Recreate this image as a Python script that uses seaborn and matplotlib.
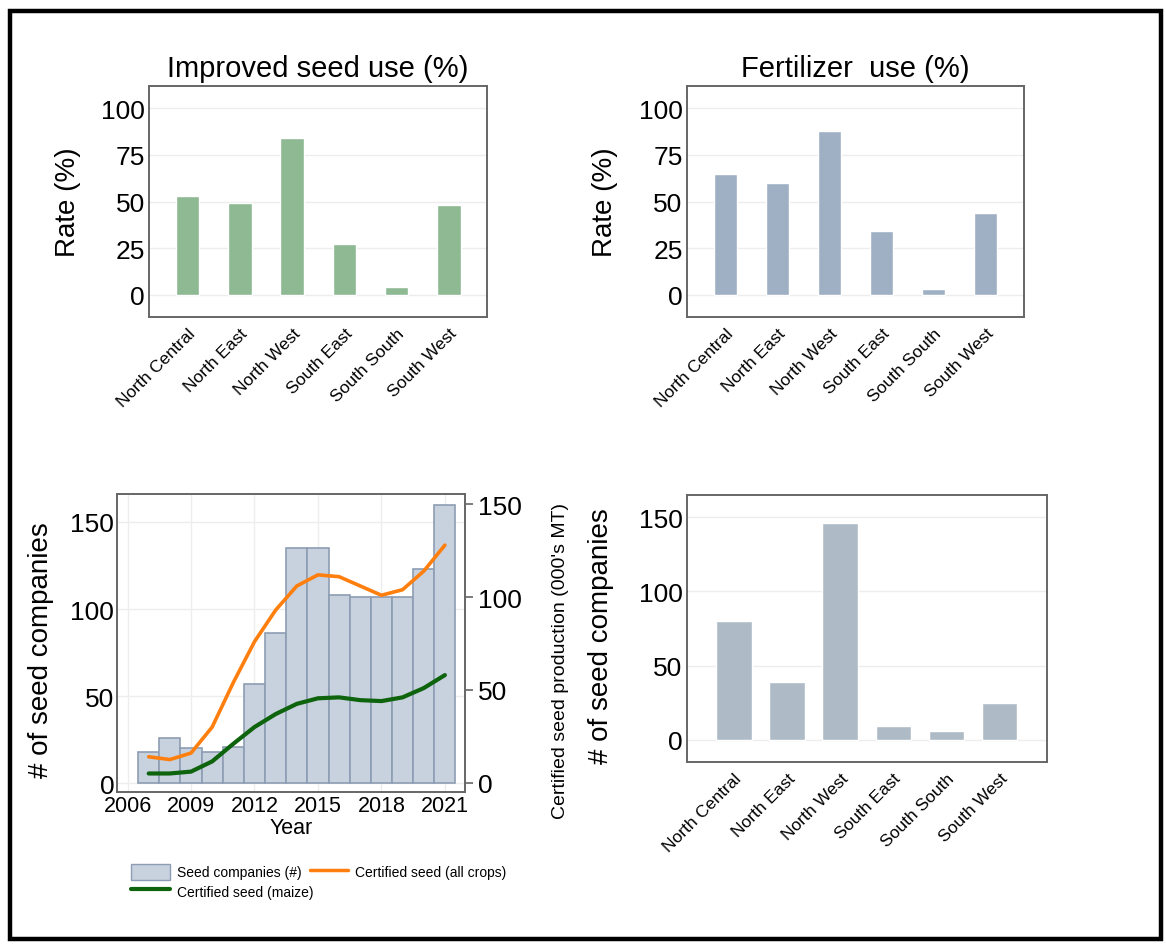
import matplotlib
matplotlib.use("Agg")
import matplotlib.pyplot as plt
from matplotlib.patches import Rectangle, Patch
from matplotlib.lines import Line2D
import seaborn as sns

# Region data
regions = ["North Central", "North East", "North West", "South East", "South South", "South West"]
improved_seed = [53, 49, 84, 27, 4, 48]
fertilizer = [65, 60, 88, 34, 3, 44]
companies_by_region = [80, 39, 146, 9, 6, 25]

# Time series
years = list(range(2007, 2022))
seed_companies = [18, 26, 20, 18, 21, 57, 86, 135, 135, 108, 107, 107, 107, 123, 160]
certified_all = [14, 12.5, 16, 30, 54, 76, 93, 106, 112, 111, 106, 101, 104, 114, 128]
certified_maize = [5, 5, 6, 11.5, 21, 30, 37, 42.5, 45.5, 46, 44.5, 44, 46, 51, 58]

sns.set_theme(style="white")
plt.rcParams["font.family"] = ["Liberation Sans", "DejaVu Sans"]
plt.rcParams["text.color"] = "black"
plt.rcParams["axes.labelcolor"] = "black"
plt.rcParams["xtick.color"] = "black"
plt.rcParams["ytick.color"] = "black"

SPINE = "#666666"
GRID = "#ededed"


def style_axes(ax):
    for s in ax.spines.values():
        s.set_color(SPINE)
        s.set_linewidth(1.4)
    ax.tick_params(axis="both", length=0)


def region_bars(ax, vals, color, width, xlim, ylim, yticks, ylabel, label_x, label_y=0.5, title=None):
    sns.barplot(x=regions, y=vals, color=color, width=width, saturation=1, ax=ax, zorder=2)
    ax.set_xlim(*xlim)
    ax.set_ylim(*ylim)
    ax.set_yticks(yticks)
    ax.yaxis.grid(True, color=GRID, linewidth=1.0, zorder=0)
    ax.set_axisbelow(True)
    ax.tick_params(axis="y", labelsize=19, pad=3)
    ax.set_xticks(range(len(regions)))
    ax.set_xticklabels(regions, rotation=45, ha="right", rotation_mode="anchor", fontsize=12.5)
    ax.tick_params(axis="x", pad=6)
    ax.set_xlabel("")
    ax.set_ylabel(ylabel, fontsize=20)
    ax.yaxis.set_label_coords(label_x, label_y)
    if title:
        ax.set_title(title, fontsize=21, pad=7)
    style_axes(ax)


fig = plt.figure(figsize=(11.66, 9.45), dpi=100)

ax1 = fig.add_axes([0.1278, 0.6635, 0.290, 0.2444])
region_bars(ax1, improved_seed, "#8fb993", 0.45, (-0.74, 5.73), (-12, 112), [0, 25, 50, 75, 100],
            "Rate (%)", -0.2, title="Improved seed use (%)")

ax2 = fig.add_axes([0.589, 0.6635, 0.289, 0.2444])
region_bars(ax2, fertilizer, "#a0b0c4", 0.45, (-0.74, 5.73), (-12, 112), [0, 25, 50, 75, 100],
            "Rate (%)", -0.205, title="Fertilizer  use (%)")

ax4 = fig.add_axes([0.589, 0.1926, 0.3087, 0.2825])
region_bars(ax4, companies_by_region, "#aebbc7", 0.67, (-0.89, 5.89), (-15, 165), [0, 50, 100, 150],
            "# of seed companies", -0.203, 0.476)

# Seed companies over time with certified seed production
ax3 = fig.add_axes([0.1003, 0.1608, 0.2985, 0.3153])
sns.barplot(x=years, y=seed_companies, native_scale=True, width=1, color="#c8d1de",
            saturation=1, edgecolor="#8d9db3", linewidth=1.2, ax=ax3, zorder=2)
ax3.set_xlim(2005.5, 2021.95)
ax3.set_ylim(-5, 166)
ax3.set_yticks([0, 50, 100, 150])
ax3.set_xticks([2006, 2009, 2012, 2015, 2018, 2021])
ax3.set_xticklabels(["2006", "2009", "2012", "2015", "2018", "2021"])
ax3.grid(True, color=GRID, linewidth=1.0, zorder=0)
ax3.set_axisbelow(True)
style_axes(ax3)
ax3.tick_params(axis="y", labelsize=19, pad=2)
ax3.tick_params(axis="x", labelsize=15.5, pad=2)
ax3.set_xlabel("Year", fontsize=15.5, labelpad=1)
ax3.set_ylabel("# of seed companies", fontsize=20)
ax3.yaxis.set_label_coords(-0.181, 0.48)

ax3r = ax3.twinx()
sns.lineplot(x=years, y=certified_all, color="#ff7f0e", linewidth=2.6, ax=ax3r)
sns.lineplot(x=years, y=certified_maize, color="#0d640d", linewidth=3.0, ax=ax3r)
ax3r.set_ylim(-5, 155.5)
ax3r.set_yticks([0, 50, 100, 150])
for s in ax3r.spines.values():
    s.set_visible(False)
ax3r.tick_params(axis="y", length=6, width=1.2, color=SPINE, labelcolor="black",
                 labelsize=19, pad=3, right=True)
ax3r.set_ylabel("Certified seed production (000's MT)", fontsize=14)
ax3r.yaxis.set_label_coords(1.25, 0.443)

handles = [
    Patch(facecolor="#c8d1de", edgecolor="#8d9db3", linewidth=1),
    Line2D([], [], color="#0d640d", linewidth=3),
    Line2D([], [], color="#ff7f0e", linewidth=2.5),
]
labels = ["Seed companies (#)", "Certified seed (maize)", "Certified seed (all crops)"]
fig.legend(handles, labels, loc="upper left", bbox_to_anchor=(0.102, 1 - 852 / 945),
           bbox_transform=fig.transFigure, ncol=2, frameon=False, fontsize=10,
           handlelength=2.8, handleheight=1.4, columnspacing=-0.3, handletextpad=0.5,
           labelspacing=0.25)

# outer frame
fig.patches.append(Rectangle((0.0086, 0.005), 0.987, 0.982, transform=fig.transFigure,
                             fill=False, edgecolor="black", linewidth=3.2))

fig.savefig("out.png", dpi=100)
